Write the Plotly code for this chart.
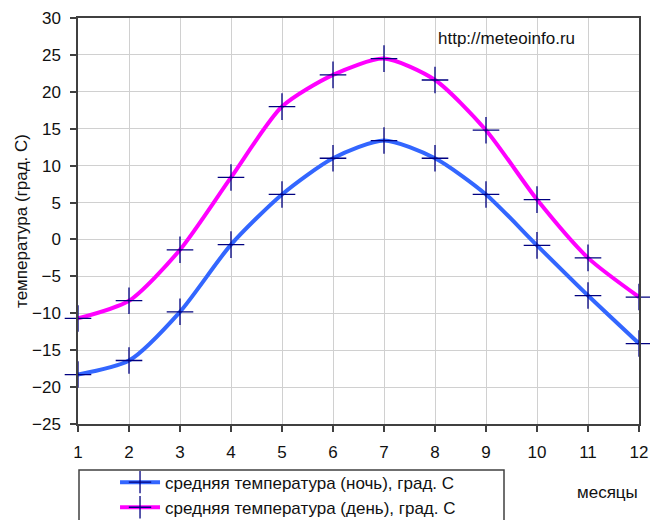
import plotly.graph_objects as go

months = [1, 2, 3, 4, 5, 6, 7, 8, 9, 10, 11, 12]
night_temp = [-18.3, -16.4, -9.8, -0.7, 6.1, 11.0, 13.4, 11.0, 6.1, -0.8, -7.6, -14.1]
day_temp = [-10.7, -8.3, -1.4, 8.4, 18.0, 22.3, 24.5, 21.6, 14.8, 5.4, -2.5, -7.8]
night_name = "средняя температура (ночь), град. С"
day_name = "средняя температура (день), град. С"
y_ticks = [-25, -20, -15, -10, -5, 0, 5, 10, 15, 20, 25, 30]

FONT = "Liberation Sans, Arial, sans-serif"
marker = dict(symbol="cross-thin", size=19, line=dict(color="#000080", width=1.3), color="#000080")

fig = go.Figure()
fig.add_trace(go.Scatter(x=months, y=night_temp, name=night_name, mode="lines+markers",
                         line=dict(color="#3366FF", width=4, shape="spline", smoothing=0.7),
                         marker=marker, cliponaxis=False))
fig.add_trace(go.Scatter(x=months, y=day_temp, name=day_name, mode="lines+markers",
                         line=dict(color="#FF00FF", width=4, shape="spline", smoothing=0.7),
                         marker=marker, cliponaxis=False))

axis_common = dict(showline=True, linecolor="#404040", linewidth=1.5, mirror=True,
                   ticks="outside", ticklen=6, tickcolor="#404040", tickwidth=1.5,
                   showgrid=True, gridcolor="#d0d0d0", gridwidth=1, zeroline=False,
                   tickfont=dict(family=FONT, size=17, color="#111"))

fig.update_xaxes(range=[1, 12], tickvals=months, ticklabelstandoff=6, automargin=False, **axis_common)
fig.update_yaxes(range=[-25, 30], tickvals=y_ticks, ticklabelstandoff=6, automargin=False,
                 title=dict(text="температура (град. С)", font=dict(family=FONT, size=17, color="#111"), standoff=0),
                 **axis_common)

fig.update_layout(
    width=650, height=520,
    margin=dict(l=78, r=11, t=18, b=96, autoexpand=False),
    paper_bgcolor="white", plot_bgcolor="white",
    font=dict(family=FONT, size=17, color="#111"),
    showlegend=True,
    legend=dict(x=0.066, xanchor="left", y=-0.1, yanchor="top", bgcolor="rgba(0,0,0,0)",
                borderwidth=0, itemwidth=40, font=dict(family=FONT, size=17, color="#111"),
                tracegroupgap=0),
    annotations=[
        dict(text="http://meteoinfo.ru", xref="paper", yref="paper", x=(506-78)/561, y=(424-38)/406,
             xanchor="center", yanchor="middle", showarrow=False, font=dict(family=FONT, size=17, color="#111")),
        dict(text="месяцы", xref="paper", yref="paper", x=(607-78)/561, y=(424-492)/406,
             xanchor="center", yanchor="middle", showarrow=False, font=dict(family=FONT, size=17, color="#111")),
    ],
    shapes=[
        dict(type="rect", xref="paper", yref="paper", x0=(79-78)/561, x1=(504-78)/561,
             y0=(424-470)/406, y1=(424-540)/406, line=dict(color="#404040", width=1.5), fillcolor="rgba(0,0,0,0)"),
    ],
)

fig.write_html("out.html")
